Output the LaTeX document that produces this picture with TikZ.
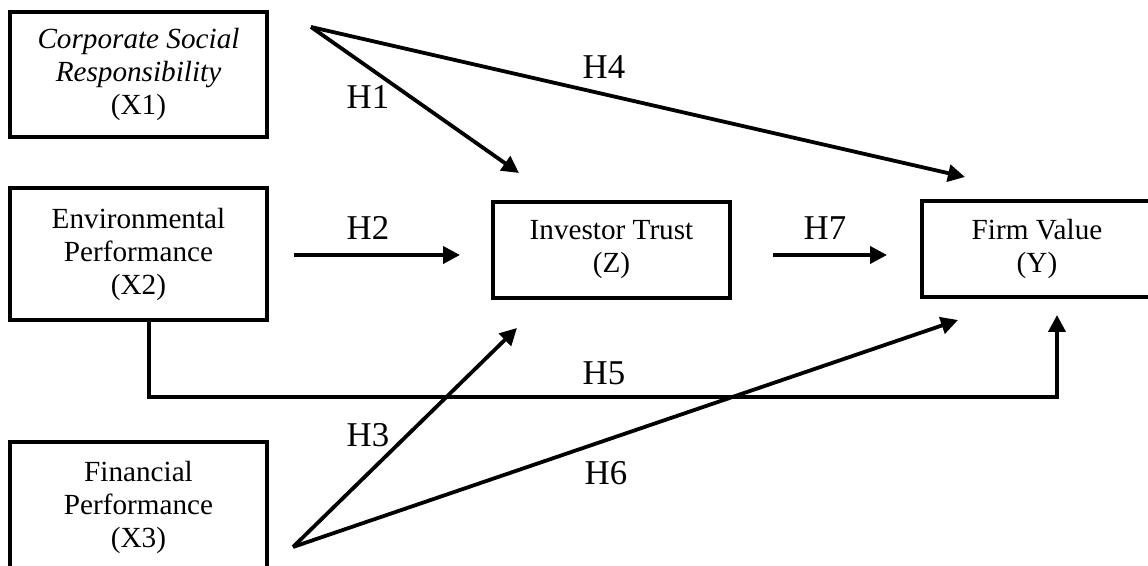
\documentclass[tikz,border=0pt]{standalone}
\usepackage{fontspec}
\setmainfont{Liberation Serif}
\usepackage{tikz}
\usetikzlibrary{
  arrows.meta,
  positioning,
  calc
}

\begin{document}
\begin{tikzpicture}[
    x=0.5pt, y=-0.5pt,
    construct/.style={draw, line width=2pt, align=center, inner sep=0pt,
                      font=\fontsize{14.6}{16.5}\selectfont},
    link/.style={-{Triangle[length=8.5pt, width=8.5pt]}, line width=1.9pt},
    hyp/.style={font=\fontsize{17.4}{20}\selectfont, inner sep=0pt},
  ]
  \clip (0,0) rectangle (1148,566);

  % Variables
  \node[construct, minimum width=128.5pt, minimum height=62.5pt] (x1) at (138.5,74.5)
    {\textit{Corporate Social}\\\textit{Responsibility}\\(X1)};
  \node[construct, minimum width=128.5pt, minimum height=66pt] (x2) at (138.5,254)
    {Environmental\\Performance\\(X2)};
  \node[construct, minimum width=128.5pt, minimum height=65pt] (x3) at (138.5,507)
    {Financial\\Performance\\(X3)};
  \node[construct, minimum width=118.5pt, minimum height=48pt] (z) at (611.5,250)
    {Investor Trust\\(Z)};
  \node[construct, minimum width=115pt, minimum height=48pt] (y) at (1037,249)
    {Firm Value\\(Y)};

  % Free ends of the paths
  \coordinate (x1out) at (311,27);
  \coordinate (x2out) at (294,255);
  \coordinate (x3out) at (293,547);
  \coordinate (zin1) at (519,173);
  \coordinate (zin2) at (460,255);
  \coordinate (zin3) at (517,328);
  \coordinate (zout) at (773,255);
  \coordinate (yin4) at (965,177);
  \coordinate (yin7) at (887,255);
  \coordinate (yin6) at (958,320);
  \coordinate (x2down) at ($(x2.south)+(10.5,0)$);
  \coordinate (yup) at (1057,315);

  % Direct paths
  \draw[link] (x1out) -- (zin1);
  \draw[link] (x1out) -- (yin4);
  \draw[link] (x2out) -- (zin2);
  \draw[link] (zout) -- (yin7);
  \draw[link] (x3out) -- (zin3);
  \draw[link] (x3out) -- (yin6);

  % H5 path under the boxes
  \draw[link] (x2down) -- (149,397) -- (1057,397) -- (yup);

  % Hypotheses
  \node[hyp] (h1) at (368,97) {H1};
  \node[hyp] (h2) at (368,228) {H2};
  \node[hyp] (h3) at (368,435) {H3};
  \node[hyp] (h4) at (604,67) {H4};
  \node[hyp] (h5) at (604,373) {H5};
  \node[hyp] (h6) at (606,473) {H6};
  \node[hyp] (h7) at (825,228) {H7};

\end{tikzpicture}
\end{document}
